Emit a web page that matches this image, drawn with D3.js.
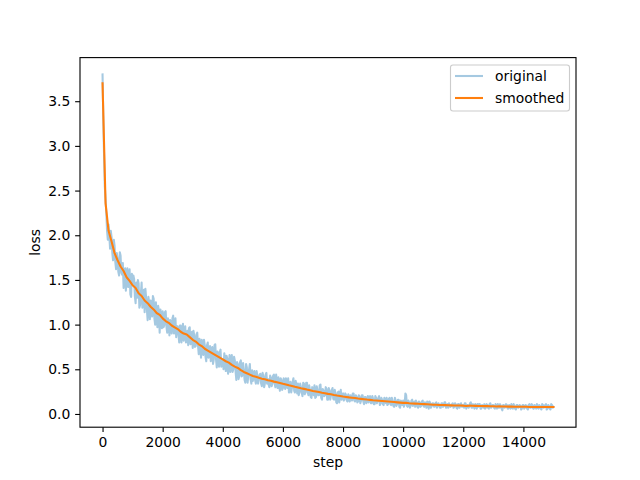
<!DOCTYPE html>
<html>
<head>
<meta charset="utf-8">
<script src="https://cdn.jsdelivr.net/npm/d3@7"></script>
<style>
  html, body { margin: 0; padding: 0; background: #fff; }
  svg { display: block; font-family: "DejaVu Sans", sans-serif; }
</style>
</head>
<body>
<svg id="chart" width="640" height="480"></svg>
<script>
// ---- data ----
// original loss, read at every 50 steps (0, 50, 100, ...)
const originalStepInterval = 50;
const originalLoss = [
  3.80, 2.90, 2.40, 2.05, 2.12, 1.85, 1.98, 1.72, 1.88, 1.62,
  1.74, 1.55, 1.77, 1.56, 1.41, 1.63, 1.53, 1.42, 1.62, 1.31,
  1.46, 1.51, 1.24, 1.30, 1.46, 1.22, 1.47, 1.25, 1.14, 1.30,
  1.05, 1.25, 1.27, 1.09, 1.29, 1.00, 1.08, 1.21, 0.91, 1.09,
  1.15, 0.99, 1.15, 0.91, 1.03, 1.05, 0.90, 1.10, 0.92, 0.86,
  0.98, 0.80, 0.99, 0.91, 0.82, 0.98, 0.84, 0.77, 0.97, 0.79,
  0.74, 0.88, 0.76, 0.91, 0.67, 0.79, 0.83, 0.66, 0.77, 0.59,
  0.80, 0.66, 0.59, 0.75, 0.61, 0.78, 0.52, 0.67, 0.69, 0.53,
  0.61, 0.68, 0.48, 0.62, 0.52, 0.47, 0.66, 0.50, 0.60, 0.38,
  0.56, 0.43, 0.60, 0.43, 0.49, 0.35, 0.52, 0.43, 0.56, 0.34,
  0.37, 0.48, 0.34, 0.43, 0.39, 0.45, 0.31, 0.42, 0.34, 0.46,
  0.39, 0.30, 0.41, 0.34, 0.44, 0.30, 0.36, 0.41, 0.26, 0.38,
  0.29, 0.36, 0.40, 0.29, 0.24, 0.36, 0.29, 0.40, 0.24, 0.33,
  0.34, 0.24, 0.30, 0.20, 0.34, 0.24, 0.35, 0.21, 0.27, 0.18,
  0.29, 0.32, 0.19, 0.26, 0.21, 0.33, 0.16, 0.26, 0.21, 0.28,
  0.16, 0.26, 0.21, 0.29, 0.16, 0.23, 0.12, 0.25, 0.21, 0.16,
  0.23, 0.17, 0.21, 0.14, 0.19, 0.21, 0.15, 0.23, 0.14, 0.19,
  0.14, 0.19, 0.15, 0.21, 0.11, 0.19, 0.16, 0.13, 0.20, 0.12,
  0.17, 0.11, 0.18, 0.14, 0.20, 0.12, 0.16, 0.10, 0.15, 0.18,
  0.11, 0.18, 0.10, 0.14, 0.08, 0.15, 0.11, 0.16, 0.07, 0.14,
  0.15, 0.11, 0.21, 0.08, 0.13, 0.09, 0.16, 0.11, 0.08, 0.13,
  0.07, 0.13, 0.09, 0.15, 0.08, 0.11, 0.14, 0.06, 0.12, 0.09,
  0.12, 0.08, 0.13, 0.09, 0.10, 0.07, 0.12, 0.09, 0.13, 0.08,
  0.07, 0.10, 0.09, 0.12, 0.08, 0.11, 0.06, 0.11, 0.10, 0.08,
  0.10, 0.12, 0.06, 0.10, 0.08, 0.13, 0.07, 0.09, 0.11, 0.06,
  0.08, 0.11, 0.06, 0.09, 0.11, 0.07, 0.10, 0.06, 0.12, 0.08,
  0.10, 0.06, 0.09, 0.11, 0.07, 0.09, 0.04, 0.10, 0.08, 0.10,
  0.06, 0.09, 0.11, 0.06, 0.09, 0.05, 0.10, 0.08, 0.09, 0.06,
  0.10, 0.07, 0.09, 0.05, 0.11, 0.07, 0.10, 0.06, 0.08, 0.11,
  0.06, 0.09, 0.05, 0.10, 0.08, 0.11, 0.06, 0.09, 0.05, 0.10,
  0.08
];
// original loss, read half-way between those (25, 75, 125, ...)
const originalStepOffset = 25;
const originalLossBetween = [
  3.30, 2.55, 2.25, 1.95, 2.00, 2.05, 1.80, 1.95, 1.70, 1.80,
  1.59, 1.81, 1.58, 1.69, 1.61, 1.38, 1.63, 1.49, 1.34, 1.57,
  1.55, 1.32, 1.47, 1.50, 1.19, 1.35, 1.19, 1.39, 1.40, 1.17,
  1.31, 1.06, 1.21, 1.32, 1.07, 1.25, 0.97, 1.15, 1.17, 0.96,
  0.97, 1.14, 0.98, 1.07, 0.88, 1.01, 1.07, 0.90, 1.07, 0.98,
  0.89, 0.99, 0.80, 1.01, 0.91, 0.80, 0.93, 0.96, 0.78, 0.92,
  0.93, 0.75, 0.89, 0.77, 0.84, 0.63, 0.76, 0.83, 0.64, 0.77,
  0.63, 0.76, 0.71, 0.56, 0.77, 0.61, 0.70, 0.53, 0.72, 0.58,
  0.50, 0.62, 0.65, 0.45, 0.66, 0.60, 0.47, 0.64, 0.48, 0.58,
  0.39, 0.58, 0.42, 0.57, 0.38, 0.56, 0.35, 0.50, 0.39, 0.49,
  0.46, 0.38, 0.48, 0.34, 0.44, 0.34, 0.46, 0.30, 0.44, 0.34,
  0.33, 0.43, 0.31, 0.43, 0.34, 0.44, 0.29, 0.32, 0.40, 0.27,
  0.40, 0.28, 0.36, 0.40, 0.29, 0.24, 0.36, 0.26, 0.37, 0.23,
  0.21, 0.34, 0.24, 0.35, 0.22, 0.35, 0.24, 0.32, 0.19, 0.30,
  0.21, 0.18, 0.31, 0.21, 0.32, 0.18, 0.28, 0.20, 0.30, 0.16,
  0.29, 0.16, 0.27, 0.17, 0.27, 0.13, 0.24, 0.13, 0.27, 0.22,
  0.15, 0.23, 0.15, 0.22, 0.14, 0.20, 0.23, 0.15, 0.21, 0.13,
  0.21, 0.12, 0.21, 0.14, 0.19, 0.12, 0.20, 0.18, 0.12, 0.20,
  0.11, 0.20, 0.12, 0.18, 0.10, 0.18, 0.11, 0.18, 0.12, 0.10,
  0.17, 0.11, 0.18, 0.09, 0.18, 0.09, 0.16, 0.08, 0.15, 0.10,
  0.08, 0.23, 0.09, 0.15, 0.07, 0.15, 0.09, 0.14, 0.15, 0.08,
  0.14, 0.08, 0.14, 0.09, 0.13, 0.07, 0.12, 0.14, 0.07, 0.12,
  0.08, 0.12, 0.07, 0.12, 0.07, 0.12, 0.08, 0.13, 0.07, 0.11,
  0.12, 0.08, 0.11, 0.07, 0.12, 0.07, 0.11, 0.07, 0.12, 0.08,
  0.07, 0.12, 0.10, 0.07, 0.12, 0.07, 0.11, 0.06, 0.10, 0.11,
  0.11, 0.06, 0.10, 0.07, 0.06, 0.11, 0.07, 0.11, 0.07, 0.10,
  0.07, 0.11, 0.06, 0.07, 0.11, 0.06, 0.10, 0.07, 0.11, 0.06,
  0.10, 0.06, 0.07, 0.11, 0.06, 0.10, 0.07, 0.10, 0.05, 0.10,
  0.06, 0.10, 0.06, 0.10, 0.07, 0.11, 0.06, 0.10, 0.06, 0.07,
  0.10, 0.06, 0.11, 0.07, 0.10, 0.05, 0.10, 0.06, 0.11, 0.07
];

const smoothedStepInterval = 100;
const smoothedLoss = [
  3.70, 2.36, 2.05, 1.93, 1.80, 1.72, 1.65, 1.60, 1.53, 1.49,
  1.44, 1.41, 1.35, 1.32, 1.27, 1.24, 1.20, 1.17, 1.13, 1.11,
  1.07, 1.04, 1.02, 0.99, 0.97, 0.95, 0.92, 0.90, 0.89, 0.86,
  0.83, 0.81, 0.78, 0.76, 0.73, 0.71, 0.69, 0.67, 0.65, 0.63,
  0.61, 0.59, 0.575, 0.55, 0.53, 0.515, 0.49, 0.47, 0.455, 0.44,
  0.425, 0.417, 0.405, 0.395, 0.388, 0.378, 0.371, 0.362, 0.356, 0.347,
  0.338, 0.331, 0.322, 0.314, 0.305, 0.297, 0.288, 0.281, 0.273, 0.266,
  0.258, 0.252, 0.245, 0.238, 0.232, 0.225, 0.220, 0.213, 0.207, 0.202,
  0.196, 0.191, 0.186, 0.182, 0.178, 0.173, 0.169, 0.165, 0.161, 0.158,
  0.154, 0.151, 0.148, 0.145, 0.142, 0.139, 0.136, 0.133, 0.130, 0.127,
  0.124, 0.125, 0.121, 0.118, 0.116, 0.114, 0.112, 0.110, 0.108, 0.106,
  0.104, 0.103, 0.101, 0.100, 0.099, 0.097, 0.096, 0.095, 0.095, 0.094,
  0.093, 0.089, 0.093, 0.092, 0.091, 0.090, 0.089, 0.088, 0.088, 0.087,
  0.086, 0.083, 0.085, 0.084, 0.083, 0.082, 0.082, 0.081, 0.081, 0.080,
  0.080, 0.080, 0.079, 0.079, 0.079, 0.078, 0.078, 0.078, 0.078, 0.078,
  0.078
];

const xTicks = [0, 2000, 4000, 6000, 8000, 10000, 12000, 14000];
const yTicks = [0.0, 0.5, 1.0, 1.5, 2.0, 2.5, 3.0, 3.5];
const seriesNames = ["original", "smoothed"];
const axisLabels = { x: "step", y: "loss" };

// ---- layout ----
const W = 640, H = 480;
const margin = { left: 80, right: 64, top: 57.6, bottom: 52.8 };
const plotW = W - margin.left - margin.right;
const plotH = H - margin.top - margin.bottom;
const fontSize = 13.9;
const lineW = 2.08, thinW = 1.11, tickLen = 4.86, tickPad = 4.86;

const origData = [];
originalLoss.forEach((v, i) => {
  origData.push({ step: i * originalStepInterval, loss: v });
  if (i < originalLossBetween.length) {
    origData.push({ step: i * originalStepInterval + originalStepOffset, loss: originalLossBetween[i] });
  }
});
const smoothData = smoothedLoss.map((v, i) => ({ step: i * smoothedStepInterval, loss: v }));

const allSteps = origData.map(d => d.step).concat(smoothData.map(d => d.step));
const allLoss = origData.map(d => d.loss).concat(smoothedLoss);
const [sx0, sx1] = d3.extent(allSteps);
const [ly0, ly1] = d3.extent(allLoss);
const padX = (sx1 - sx0) * 0.05, padY = (ly1 - ly0) * 0.05;

const x = d3.scaleLinear().domain([sx0 - padX, sx1 + padX]).range([margin.left, margin.left + plotW]);
const y = d3.scaleLinear().domain([ly0 - padY, ly1 + padY]).range([margin.top + plotH, margin.top]);

const svg = d3.select("#chart");
svg.append("rect").attr("width", W).attr("height", H).attr("fill", "#fff");

const clipId = "plotclip";
svg.append("clipPath").attr("id", clipId).append("rect")
  .attr("x", margin.left).attr("y", margin.top).attr("width", plotW).attr("height", plotH);

const line = d3.line().x(d => x(d.step)).y(d => y(d.loss));

const plot = svg.append("g").attr("clip-path", `url(#${clipId})`);
plot.append("path").datum(origData)
  .attr("d", line).attr("fill", "none")
  .attr("stroke", "#1f77b4").attr("stroke-opacity", 0.4)
  .attr("stroke-width", lineW).attr("stroke-linejoin", "round").attr("stroke-linecap", "square");
plot.append("path").datum(smoothData)
  .attr("d", line).attr("fill", "none")
  .attr("stroke", "#ff7f0e")
  .attr("stroke-width", lineW).attr("stroke-linejoin", "round").attr("stroke-linecap", "square");

// axes
const xAxis = d3.axisBottom(x).tickValues(xTicks).tickFormat(d3.format("d")).tickSizeOuter(0).tickSize(tickLen).tickPadding(tickPad);
const yAxis = d3.axisLeft(y).tickValues(yTicks).tickFormat(d3.format(".1f")).tickSizeOuter(0).tickSize(tickLen).tickPadding(tickPad);

const gx = svg.append("g").attr("transform", `translate(0,${margin.top + plotH})`).call(xAxis);
const gy = svg.append("g").attr("transform", `translate(${margin.left},0)`).call(yAxis);
[gx, gy].forEach(g => {
  g.select(".domain").remove();
  g.selectAll(".tick line").attr("stroke", "#000").attr("stroke-width", thinW);
  g.selectAll(".tick text").attr("fill", "#000").attr("font-size", fontSize).attr("font-family", "DejaVu Sans");
});

// frame
svg.append("rect")
  .attr("x", margin.left).attr("y", margin.top).attr("width", plotW).attr("height", plotH)
  .attr("fill", "none").attr("stroke", "#000").attr("stroke-width", thinW);

// axis labels
svg.append("text").attr("x", margin.left + plotW / 2).attr("y", 467)
  .attr("text-anchor", "middle").attr("font-size", fontSize).attr("fill", "#000").text(axisLabels.x);
svg.append("text").attr("transform", `translate(40,${margin.top + plotH / 2}) rotate(-90)`)
  .attr("text-anchor", "middle").attr("font-size", fontSize).attr("fill", "#000").text(axisLabels.y);

// legend
const legendColors = ["#1f77b4", "#ff7f0e"];
const legendOpacity = [0.4, 1];
const lg = svg.append("g");
lg.append("rect").attr("x", 450.5).attr("y", 65).attr("width", 119).attr("height", 46)
  .attr("rx", 2.5).attr("fill", "#fff").attr("fill-opacity", 0.8)
  .attr("stroke", "#cccccc").attr("stroke-width", thinW);
seriesNames.forEach((name, i) => {
  const ry = 76 + i * 22;
  lg.append("line").attr("x1", 455).attr("x2", 483).attr("y1", ry).attr("y2", ry)
    .attr("stroke", legendColors[i]).attr("stroke-opacity", legendOpacity[i]).attr("stroke-width", lineW);
  lg.append("text").attr("x", 495).attr("y", ry + 5).attr("font-size", fontSize).attr("fill", "#000").text(name);
});
</script>
</body>
</html>
